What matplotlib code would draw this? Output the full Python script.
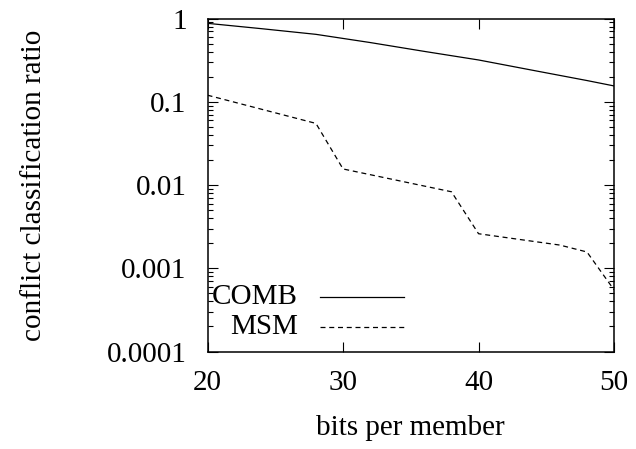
import numpy as np
import matplotlib
matplotlib.use("Agg")
import matplotlib.pyplot as plt
from matplotlib.ticker import LogLocator, FixedLocator, NullFormatter

# bits per member vs. ratio of conflicts that get classified
comb_bits = [20, 24, 28, 32, 36, 40, 44, 48, 50]
comb_ratio = [0.876, 0.755, 0.646, 0.515, 0.403, 0.318, 0.239, 0.180, 0.155]

msm_bits = [20, 28, 30, 38, 40, 46, 48, 50]
msm_ratio = [0.120, 0.055, 0.0156, 0.0083, 0.0026, 0.0019, 0.00157, 0.00055]

x_ticks = [20, 30, 40, 50]
y_ticks = [1e-4, 1e-3, 1e-2, 1e-1, 1]
y_tick_labels = ["0.0001", "0.001", "0.01", "0.1", "1"]

plt.rcParams["font.family"] = ["Liberation Serif", "DejaVu Serif"]
plt.rcParams["font.size"] = 21

fig = plt.figure(figsize=(6.36, 4.49), dpi=100)
ax = fig.add_axes([0.3263, 0.2171, 0.6392, 0.7416])

ax.plot(comb_bits, comb_ratio, color="black", lw=0.9)
ax.plot(msm_bits, msm_ratio, color="black", lw=0.9, dashes=(4, 3))

ax.set_yscale("log")
ax.set_xlim(20, 50)
ax.set_ylim(1e-4, 1)

ax.xaxis.set_major_locator(FixedLocator(x_ticks))
ax.set_xticklabels([str(t) for t in x_ticks])
ax.yaxis.set_major_locator(FixedLocator(y_ticks))
ax.set_yticklabels(y_tick_labels)
ax.yaxis.set_minor_locator(LogLocator(base=10, subs=np.arange(2, 10)))
ax.yaxis.set_minor_formatter(NullFormatter())

ax.tick_params(which="both", direction="in", top=True, right=True, color="black")
ax.tick_params(which="major", length=7.2, width=0.8)
ax.tick_params(which="minor", length=3.6, width=0.8)
ax.tick_params(axis="x", pad=13)
ax.tick_params(axis="y", pad=15)

for s in ax.spines.values():
    s.set_linewidth(1.1)

ax.set_xlabel("bits per member")
ax.xaxis.set_label_coords(0.5, -0.19)
ax.set_ylabel("conflict classification ratio")
ax.yaxis.set_label_coords(-0.395, 0.5)

# gnuplot-style key: right-justified titles followed by line samples
key = [("COMB", None, 0.165), ("MSM", (4, 3), 0.075)]
for label, dash, ky in key:
    ax.text(0.2226, ky, label, transform=ax.transAxes, ha="right", va="center")
    ln, = ax.plot([0.277, 0.483], [ky, ky], transform=ax.transAxes,
                  color="black", lw=0.9)
    if dash:
        ln.set_dashes(dash)

fig.savefig("out.png", dpi=100)
